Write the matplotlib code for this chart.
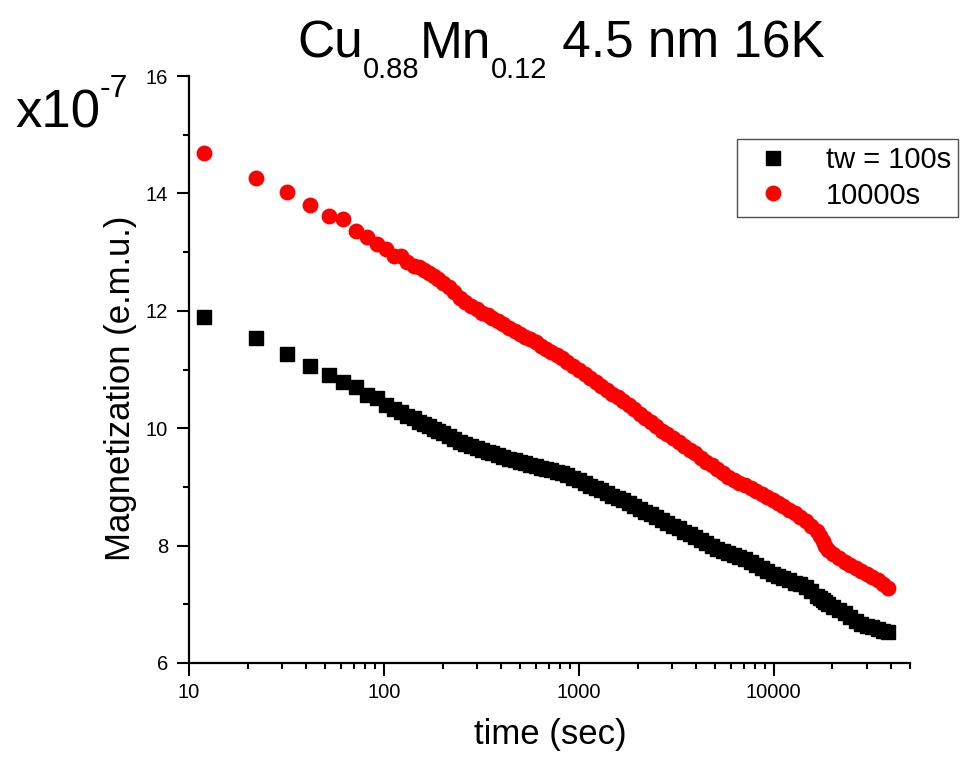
import numpy as np
import matplotlib
matplotlib.use("Agg")
from matplotlib import pyplot as plt
from matplotlib.ticker import MultipleLocator, LogLocator, NullFormatter
from matplotlib.transforms import IdentityTransform

plt.rcParams['font.family'] = ['Liberation Sans', 'DejaVu Sans']

# time (s) and magnetization (x1e-7 emu)
time_s = [12, 22, 32, 42, 52, 62, 72, 82, 92, 102, 112, 122, 132, 142, 152,
          160, 170, 180, 190, 200, 215, 230, 245, 260, 280, 300, 320, 340, 360,
          385, 410, 440, 470, 500, 530, 560, 600, 640, 680, 720, 770, 820, 870,
          930, 1000, 1070, 1140, 1220, 1300, 1390, 1480, 1580, 1690, 1800, 1920,
          2050, 2190, 2340, 2500, 2670, 2850, 3040, 3250, 3470, 3700, 3950, 4220,
          4500, 4800, 5130, 5480, 5850, 6250, 6670, 7120, 7600, 8110, 8660, 9250,
          9870, 10500, 11200, 12000, 12800, 13700, 14600, 15600, 16600, 17200,
          17800, 18400, 19000, 20200, 21600, 23100, 24600, 26300, 28100, 30000,
          32000, 34200, 36500, 38500]

m_tw100 = [11.89, 11.54, 11.26, 11.06, 10.91, 10.79, 10.70, 10.57, 10.51, 10.40,
           10.33, 10.27, 10.21, 10.17, 10.10,
           10.08, 10.03, 9.99, 9.95, 9.91, 9.86, 9.81, 9.77, 9.73, 9.70, 9.66,
           9.63, 9.60, 9.57, 9.54, 9.51, 9.48, 9.45, 9.42, 9.40, 9.38, 9.35,
           9.33, 9.31, 9.29, 9.26, 9.24, 9.20, 9.16, 9.11, 9.06, 9.02, 8.98,
           8.94, 8.89, 8.85, 8.81, 8.77, 8.73, 8.68, 8.63, 8.58, 8.54, 8.49,
           8.44, 8.39, 8.34, 8.30, 8.24, 8.19, 8.14, 8.09, 8.04, 7.99, 7.95,
           7.91, 7.88, 7.84, 7.80, 7.77, 7.72, 7.67, 7.62, 7.57, 7.52, 7.48,
           7.44, 7.41, 7.37, 7.34, 7.29, 7.22, 7.14, 7.10, 7.07, 7.04, 7.01,
           6.96, 6.90, 6.85, 6.78, 6.72, 6.66, 6.63, 6.61, 6.58, 6.55, 6.52]

m_tw10000 = [14.69, 14.27, 14.02, 13.81, 13.62, 13.56, 13.36, 13.25, 13.14, 13.05,
             12.94, 12.94, 12.83, 12.77, 12.75,
             12.70, 12.65, 12.59, 12.54, 12.48, 12.41, 12.32, 12.22, 12.15, 12.09,
             12.03, 11.97, 11.92, 11.87, 11.82, 11.77, 11.71, 11.66, 11.61, 11.56,
             11.52, 11.46, 11.40, 11.35, 11.30, 11.24, 11.19, 11.13, 11.06, 10.99,
             10.92, 10.85, 10.78, 10.72, 10.65, 10.59, 10.53, 10.46, 10.40, 10.32,
             10.25, 10.18, 10.11, 10.04, 9.96, 9.90, 9.83, 9.76, 9.70, 9.63, 9.57,
             9.50, 9.43, 9.37, 9.30, 9.23, 9.17, 9.12, 9.07, 9.03, 8.98, 8.93,
             8.88, 8.83, 8.78, 8.73, 8.67, 8.61, 8.55, 8.49, 8.42, 8.33, 8.25,
             8.17, 8.08, 8.00, 7.92, 7.86, 7.79, 7.72, 7.67, 7.62, 7.57, 7.52,
             7.46, 7.41, 7.34, 7.28]

labels = ['tw = 100s', '10000s']
xtick_vals = [10, 100, 1000, 10000]

W, H = 961, 758
fig = plt.figure(figsize=(W / 100, H / 100), dpi=100)
ax = fig.add_axes([189 / W, 1 - 663 / H, (910 - 189) / W, (663 - 76) / H])

ax.plot(time_s, m_tw100, ls='none', marker='s', ms=9.8, color='black',
        mec='black', label=labels[0])
ax.plot(time_s, m_tw10000, ls='none', marker='o', ms=10.4, color='#ff0000',
        mec='#ff0000', label=labels[1])

ax.set_xscale('log')
ax.set_xlim(10, 50000)
ax.set_ylim(6, 16)
ax.yaxis.set_major_locator(MultipleLocator(2))
ax.yaxis.set_minor_locator(MultipleLocator(1))
ax.set_xticks(xtick_vals)
ax.set_xticklabels([str(v) for v in xtick_vals])
ax.xaxis.set_minor_locator(LogLocator(base=10, subs=np.arange(2, 10)))
ax.xaxis.set_minor_formatter(NullFormatter())

for s in ['top', 'right']:
    ax.spines[s].set_visible(False)
for s in ['left', 'bottom']:
    ax.spines[s].set_linewidth(1.6)

ax.tick_params(which='major', direction='out', length=9, width=1.5)
ax.tick_params(which='minor', direction='out', length=4.5, width=1.5)
ax.tick_params(axis='y', which='major', labelsize=14.5, pad=6)
ax.tick_params(axis='x', which='major', labelsize=14.5, pad=5.5)

ax.set_xlabel('time (sec)', fontsize=25)
ax.set_ylabel('Magnetization (e.m.u.)', fontsize=25)
ax.xaxis.set_label_coords((550 - 189) / 721, -(718 - 663) / 587)
ax.yaxis.set_label_coords(-(189 - 137) / 721, (663 - 388) / 587)

leg = ax.legend(loc='upper left', bbox_to_anchor=(737 / W, 1 - 139 / H),
                bbox_transform=fig.transFigure, fontsize=21, frameon=True,
                fancybox=False, borderpad=0.25, labelspacing=0.25,
                handlelength=2.0, handletextpad=0.8, borderaxespad=0)
leg.get_frame().set_edgecolor('#222222')
leg.get_frame().set_linewidth(1.0)

# title with small subscripts, laid out piece by piece in pixel coordinates
ident = IdentityTransform()
renderer = fig.canvas.get_renderer()


def text_row(pieces, x0, y_img, center=False):
    arts = []
    x = 0.0
    for s, size, dy in pieces:
        t = fig.text(x, H - y_img - dy, s, fontsize=size, ha='left',
                     va='baseline', transform=ident)
        arts.append((t, x))
        x += t.get_window_extent(renderer).width
    shift = x0 - x / 2 if center else x0
    for t, xs in arts:
        t.set_x(xs + shift)


text_row([('Cu', 37, 0), ('0.88', 21, 20), ('Mn', 37, 0), ('0.12', 21, 20),
          (' 4.5 nm 16K', 37, 0)], 561, 58, center=True)
text_row([('x10', 38, 0), ('-7', 23, -30)], 15, 127)

fig.savefig('out.png', dpi=100)
